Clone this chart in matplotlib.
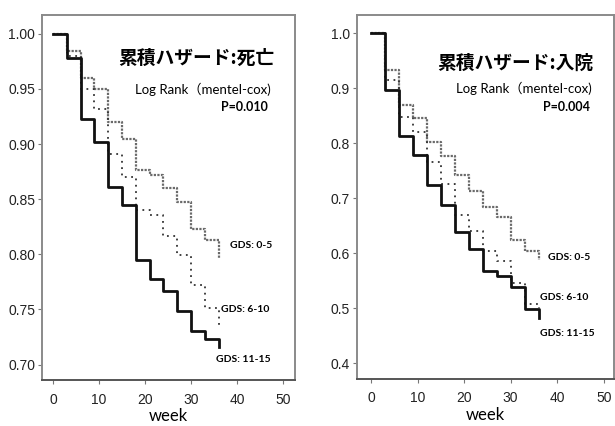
import matplotlib
matplotlib.use("Agg")
import matplotlib.pyplot as plt
from matplotlib import font_manager

names = {f.name for f in font_manager.fontManager.ttflist}
TICKFONT = ['Liberation Sans Narrow', 'Liberation Sans', 'DejaVu Sans'] if 'Liberation Sans Narrow' in names else ['Liberation Sans', 'DejaVu Sans']
LATIN = ['Lato', 'Noto Sans CJK JP', 'DejaVu Sans']
CJK = ['Noto Sans CJK JP', 'DejaVu Sans']

# ---- data ----
weeks = [0, 3, 6, 9, 12, 15, 18, 21, 24, 27, 30, 33, 36]

death_gds_0_5 = [1.00, 0.984, 0.960, 0.950, 0.920, 0.905, 0.876, 0.872, 0.860, 0.847, 0.823, 0.813, 0.796]
death_gds_6_10 = [1.00, 0.980, 0.950, 0.932, 0.891, 0.870, 0.840, 0.836, 0.817, 0.799, 0.772, 0.751, 0.735]
death_gds_11_15 = [1.00, 0.978, 0.923, 0.902, 0.861, 0.845, 0.795, 0.778, 0.767, 0.749, 0.730, 0.723, 0.716]

hosp_gds_0_5 = [1.00, 0.933, 0.869, 0.845, 0.802, 0.777, 0.742, 0.713, 0.683, 0.666, 0.623, 0.604, 0.587]
hosp_gds_6_10 = [1.00, 0.915, 0.848, 0.821, 0.765, 0.726, 0.669, 0.640, 0.604, 0.586, 0.545, 0.507, 0.500]
hosp_gds_11_15 = [1.00, 0.896, 0.813, 0.779, 0.723, 0.687, 0.638, 0.607, 0.568, 0.558, 0.538, 0.498, 0.482]

group_labels = ["GDS: 0-5", "GDS: 6-10", "GDS: 11-15"]
titles = ["累積ハザード:死亡", "累積ハザード:入院"]
test_label = "Log Rank（mentel-cox)"
p_values = ["P=0.010", "P=0.004"]
xticks = [0, 10, 20, 30, 40, 50]
yticks_death = [0.70, 0.75, 0.80, 0.85, 0.90, 0.95, 1.00]
yticks_hosp = [0.4, 0.5, 0.6, 0.7, 0.8, 0.9, 1.0]
xlabel = "week"

W, H = 615, 426
fig = plt.figure(figsize=(W / 100, H / 100), dpi=100)
fig.patch.set_facecolor('white')


def px(x, y):
    return x / W, 1 - y / H


axL = fig.add_axes([42 / W, 1 - 380 / H, (295 - 42) / W, (380 - 15) / H])
axR = fig.add_axes([357 / W, 1 - 379 / H, (614 - 357) / W, (379 - 15) / H])

styles = [
    dict(color='#6a6a6a', lw=1.6, linestyle=(0, (1, 0.6))),
    dict(color='#333333', lw=1.3, linestyle=(0, (1, 2.5))),
    dict(color='#111111', lw=2.0, linestyle='-'),
]


def panel(ax, series, yticks, ylim, xlim, yfmt):
    for s, st in zip(series, styles):
        ax.step(weeks, s, where='post', **st)
    ax.set_xlim(*xlim)
    ax.set_ylim(*ylim)
    ax.set_xticks(xticks)
    ax.set_yticks(yticks)
    ax.set_yticklabels([yfmt.format(v) for v in yticks], family=TICKFONT, fontsize=10, color='#222222')
    ax.set_xticklabels([str(v) for v in xticks], family=TICKFONT, fontsize=10, color='#222222')
    ax.tick_params(length=3, width=0.8, color='#777777', pad=2)
    ax.tick_params(axis='x', pad=6)
    for sp in ax.spines.values():
        sp.set_color('#8a8a8a')
        sp.set_linewidth(1.4)
    ax.spines['bottom'].set_color('#555555')
    ax.set_xlabel(xlabel, family=LATIN, fontsize=12, labelpad=1)


panel(axL, [death_gds_0_5, death_gds_6_10, death_gds_11_15], yticks_death,
      (0.686, 1.017), (-2.4, 52.6), "{:.2f}")
panel(axR, [hosp_gds_0_5, hosp_gds_6_10, hosp_gds_11_15], yticks_hosp,
      (0.371, 1.033), (-3.0, 52.2), "{:.1f}")

# annotations (pixel positions)
fig.text(*px(274, 58), titles[0], family=CJK, fontsize=13.5, fontweight='bold', ha='right', va='center')
fig.text(*px(271, 89), test_label, family=LATIN, fontsize=9.5, ha='right', va='center')
fig.text(*px(268, 107), p_values[0], family=LATIN, fontsize=9, fontweight='bold', ha='right', va='center')

fig.text(*px(593, 63), titles[1], family=CJK, fontsize=13.5, fontweight='bold', ha='right', va='center')
fig.text(*px(592, 88), test_label, family=LATIN, fontsize=9.5, ha='right', va='center')
fig.text(*px(590, 107), p_values[1], family=LATIN, fontsize=9, fontweight='bold', ha='right', va='center')

left_lbl_pos = [(230, 245), (221, 310), (216, 359)]
right_lbl_pos = [(548, 258), (540, 298), (540, 333)]
for lbl, (x, y) in zip(group_labels, left_lbl_pos):
    fig.text(*px(x, y), lbl, family=LATIN, fontsize=7.5, fontweight='bold', ha='left', va='center')
for lbl, (x, y) in zip(group_labels, right_lbl_pos):
    fig.text(*px(x, y), lbl, family=LATIN, fontsize=7.5, fontweight='bold', ha='left', va='center')

fig.savefig('out.png', dpi=100)
